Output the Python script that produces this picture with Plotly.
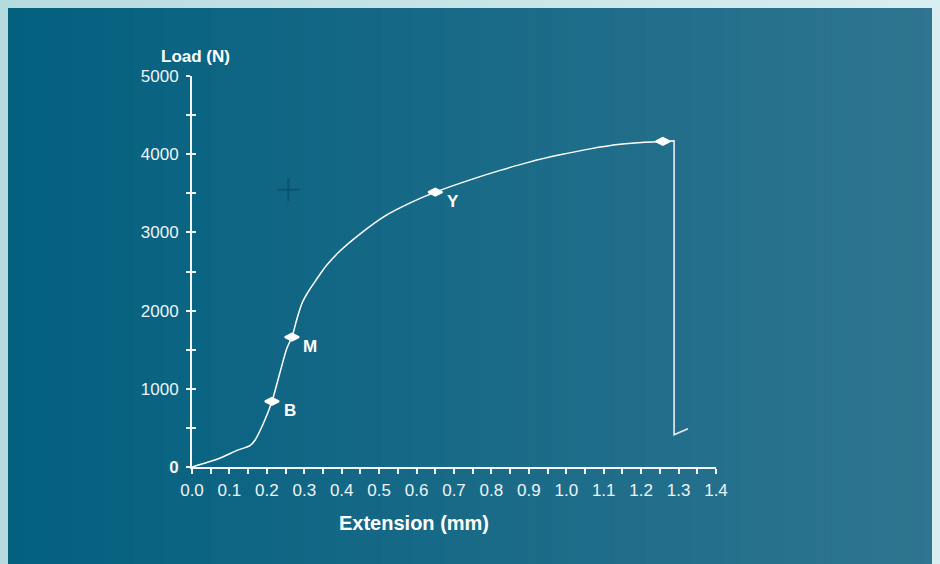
import plotly.graph_objects as go

# ---- data ----
extension_mm = [0.0, 0.0756, 0.1202, 0.1557, 0.169, 0.1912, 0.2136, 0.2358, 0.2537, 0.267,
                0.2812, 0.2945, 0.3105, 0.3319, 0.3586, 0.396, 0.4494, 0.5162, 0.5829,
                0.650, 0.7431, 0.8232, 0.9033, 0.9834, 1.0635, 1.1436, 1.2104, 1.258]
load_n = [0, 115, 212, 276, 349, 562, 838, 1222, 1521, 1662,
          1908, 2100, 2241, 2394, 2573, 2765, 2982, 3212, 3378,
          3515, 3672, 3793, 3902, 3992, 4068, 4126, 4154, 4164]
fracture_x = [1.258, 1.288, 1.288, 1.325]
fracture_y = [4164, 4170, 413, 490]
point_x = [0.2136, 0.267, 0.650, 1.258]
point_y = [838, 1662, 3515, 4164]
point_labels = ["B", "M", "Y", ""]
cross_x = [0.2576]
cross_y = [3545]
x_ticks = [round(i * 0.05, 2) for i in range(29)]
x_tick_text = [f"{v:.1f}" if i % 2 == 0 else "" for i, v in enumerate(x_ticks)]
y_ticks = [i * 500 for i in range(11)]
y_tick_text = ["<b>0</b>" if v == 0 else (str(v) if v % 1000 == 0 else "") for v in y_ticks]

# the page body adds an 8px margin, so the figure sits at (8, 8) in the window
W, H = 932, 556
L, R, T, B = 184, 224, 68, 97
PW, PH = W - L - R, H - T - B


def px2x(px):
    return (px - L) / PW


def py2y(py):
    return (H - B - py) / PH


def lerp(c1, c2, t):
    return "#" + "".join(f"{round(a + (b - a) * t):02x}" for a, b in zip(c1, c2))


shapes = []
n = 60
for i in range(n):
    x0 = W * i / n
    x1 = W * (i + 1) / n + 0.6
    t = (i + 0.5) / n
    shapes.append(dict(type="rect", xref="paper", yref="paper", layer="below",
                       x0=px2x(x0), x1=px2x(x1), y0=py2y(H), y1=py2y(0),
                       fillcolor=lerp((3, 96, 127), (47, 117, 144), t), line_width=0))

fig = go.Figure()
fig.add_trace(go.Scatter(x=cross_x, y=cross_y, mode="markers",
                         marker=dict(symbol="cross-thin", size=16,
                                     line=dict(color="rgba(10,75,105,0.75)", width=2)),
                         hoverinfo="skip"))
fig.add_trace(go.Scatter(x=extension_mm, y=load_n, mode="lines",
                         line=dict(color="white", width=1.5, shape="spline", smoothing=0.8),
                         cliponaxis=False))
fig.add_trace(go.Scatter(x=fracture_x, y=fracture_y, mode="lines",
                         line=dict(color="#e4edf1", width=1.6), cliponaxis=False))
fig.add_trace(go.Scatter(x=point_x, y=point_y, mode="markers",
                         marker=dict(symbol="diamond-wide", size=10, color="white",
                                     line=dict(color="white", width=2)),
                         cliponaxis=False))
fig.add_trace(go.Scatter(x=[0], y=[0], yaxis="y2", mode="markers",
                         marker=dict(opacity=0), hoverinfo="skip"))

annotations = []
for xv, yv, lab in zip(point_x, point_y, point_labels):
    if lab:
        annotations.append(dict(x=xv, y=yv, text=f"<b>{lab}</b>", showarrow=False,
                                xshift=18, yshift=-9,
                                font=dict(size=17, color="white", family="Liberation Sans")))
annotations.append(dict(xref="paper", yref="paper", x=px2x(187), y=py2y(49),
                        text="<b>Load (N)</b>", showarrow=False, xanchor="center",
                        yanchor="middle",
                        font=dict(size=17, color="white", family="Liberation Sans")))
annotations.append(dict(xref="paper", yref="paper", x=px2x(406), y=py2y(515),
                        text="<b>Extension (mm)</b>", showarrow=False, xanchor="center",
                        yanchor="middle",
                        font=dict(size=20, color="white", family="Liberation Sans")))

fig.update_layout(
    width=W, height=H, margin=dict(l=L, r=R, t=T, b=B, pad=0),
    paper_bgcolor="#03607f", plot_bgcolor="rgba(0,0,0,0)",
    showlegend=False, shapes=shapes, annotations=annotations,
    font=dict(family="Liberation Sans", color="#eef4f6", size=17),
    xaxis=dict(range=[0, 1.4], showgrid=False, zeroline=False, showline=True,
               linecolor="#f2f6f8", linewidth=2, ticks="outside", ticklen=5,
               tickwidth=1.5, tickcolor="#f2f6f8", tickvals=x_ticks, ticktext=x_tick_text,
               tickfont=dict(size=17, color="#eef4f6"), ticklabelstandoff=2),
    yaxis=dict(range=[0, 5000], showgrid=False, zeroline=False, showline=True,
               linecolor="#f2f6f8", linewidth=2, ticks="outside", ticklen=4,
               tickwidth=1.5, tickcolor="#f2f6f8", tickvals=y_ticks, ticktext=y_tick_text,
               tickfont=dict(size=17, color="#eef4f6"), ticklabelstandoff=4),
    yaxis2=dict(range=[0, 5000], overlaying="y", side="left", showgrid=False,
                zeroline=False, showline=False, ticks="inside", ticklen=4, tickwidth=1.5,
                tickcolor="#f2f6f8", tickvals=y_ticks, showticklabels=False),
)

fig.write_html(
    "out.html",
    post_script="document.body.style.background='linear-gradient(to right,#b6dbdf,#d9eef1)';",
)
